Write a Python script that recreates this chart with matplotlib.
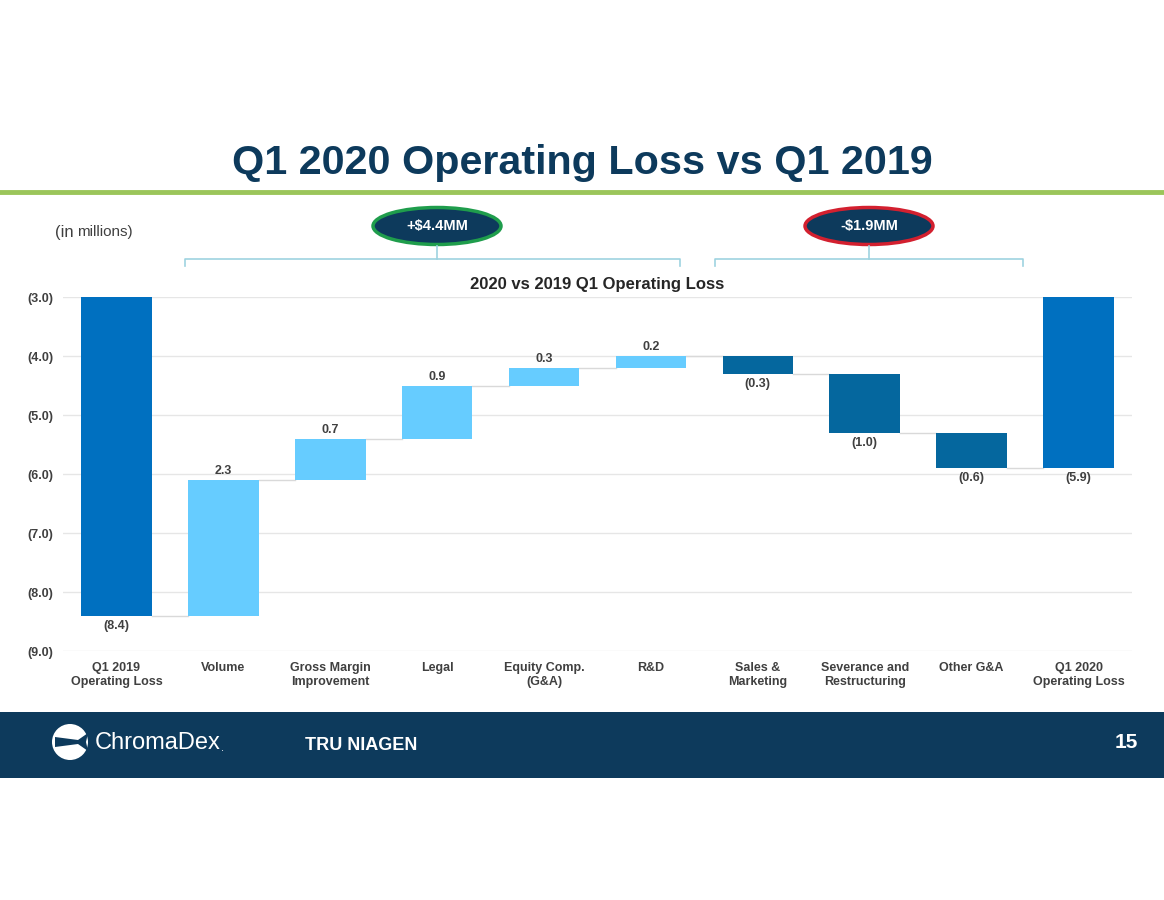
import numpy as np
import matplotlib
matplotlib.use("Agg")
import matplotlib.pyplot as plt
from matplotlib.patches import Ellipse, Circle, Rectangle, Polygon

plt.rcParams['font.family'] = ['Liberation Sans', 'DejaVu Sans']

# data
categories = ['Q1 2019\nOperating Loss', 'Volume', 'Gross Margin\nImprovement', 'Legal',
              'Equity Comp.\n(G&A)', 'R&D', 'Sales &\nMarketing', 'Severance and\nRestructuring',
              'Other G&A', 'Q1 2020\nOperating Loss']
start_value = -8.4
changes = [2.3, 0.7, 0.9, 0.3, 0.2, -0.3, -1.0, -0.6]
end_value = -5.9
y_ticks = [-3.0, -4.0, -5.0, -6.0, -7.0, -8.0, -9.0]

NAVY = '#0d3a5c'
TOTAL_C = '#0070c0'
UP_C = '#66ccff'
DOWN_C = '#05679e'
TXT = '#404040'

fig = plt.figure(figsize=(11.64, 9), dpi=100)
fig.patch.set_facecolor('white')

# header
fig.text(0.5, 1 - 163 / 900, 'Q1 2020 Operating Loss vs Q1 2019', ha='center', va='center',
         fontsize=29.7, fontweight='bold', color=NAVY)
fig.add_artist(plt.Line2D([0, 1], [1 - 192 / 900] * 2, color='#9bc55a', lw=3.5))
fig.text(55 / 1164, 1 - 232 / 900, '(in', ha='left', va='center', fontsize=12, color='#404040')
fig.text(77 / 1164, 1 - 232 / 900, 'millions)', ha='left', va='center', fontsize=11, color='#404040')

# ovals and brackets in a full-figure overlay (pixel coordinates)
ov = fig.add_axes([0, 0, 1, 1], zorder=0)
ov.set_xlim(0, 1164)
ov.set_ylim(900, 0)
ov.axis('off')

BR = '#9ed3e0'
for (x0, x1, xc) in [(185, 680, 437), (715, 1023, 869)]:
    ov.plot([x0, x0, x1, x1], [266, 259, 259, 266], color=BR, lw=1.2)
    ov.plot([xc, xc], [259, 246], color=BR, lw=1.2)

for xc, label, edge in [(437, '+$4.4MM', '#1f9d4c'), (869, '-$1.9MM', '#d3202f')]:
    ov.add_patch(Ellipse((xc, 226), 128, 37, facecolor=NAVY, edgecolor=edge, lw=2.5))
    ov.text(xc, 226, label, ha='center', va='center', color='white', fontsize=10.5, fontweight='bold')

# footer
ov.add_patch(Rectangle((0, 712), 1164, 66, facecolor=NAVY, edgecolor='none'))
ov.add_patch(Circle((70, 742), 18, facecolor='white', edgecolor='none'))
ov.add_patch(Polygon([[55, 737], [78, 740], [88, 733], [86, 742], [88, 751], [78, 744], [55, 747]],
                     closed=True, facecolor=NAVY, edgecolor='none'))
ov.text(95, 743, 'ChromaDex', ha='left', va='center', color='white', fontsize=17)
ov.text(221, 748, '.', ha='left', va='center', color='white', fontsize=8)
ov.text(305, 745, 'TRU NIAGEN', ha='left', va='center', color='white', fontsize=13, fontweight='bold')
ov.text(1138, 742, '15', ha='right', va='center', color='white', fontsize=15, fontweight='bold')

# waterfall chart
ax = fig.add_axes([63 / 1164, 1 - 651 / 900, (1132 - 63) / 1164, (651 - 297) / 900], zorder=1)
ax.patch.set_alpha(0)

n = len(categories)
x = np.arange(n)
totals = np.concatenate([[start_value], start_value + np.cumsum(changes)])
width = 0.66

# start bar
ax.bar(x[0], start_value, width=width, color=TOTAL_C, zorder=3)
# change bars
for i, ch in enumerate(changes, start=1):
    bottom = totals[i - 1]
    ax.bar(x[i], ch, bottom=bottom, width=width, color=UP_C if ch > 0 else DOWN_C, zorder=3)
# end bar
ax.bar(x[-1], end_value, width=width, color=TOTAL_C, zorder=3)

# connectors
levels = list(totals) + [end_value]
for i in range(n - 1):
    ax.plot([x[i] + width / 2, x[i + 1] - width / 2], [levels[i], levels[i]],
            color='#d9d9d9', lw=1, zorder=2)

# data labels
def fmt(v):
    return f'({abs(v):.1f})' if v < 0 else f'{v:.1f}'

lab_kw = dict(ha='center', fontsize=9, fontweight='bold', color=TXT, textcoords='offset points')
ax.annotate(fmt(start_value), (x[0], start_value), xytext=(0, -3), va='top', **lab_kw)
for i, ch in enumerate(changes, start=1):
    if ch > 0:
        ax.annotate(fmt(ch), (x[i], totals[i]), xytext=(0, 2), va='bottom', **lab_kw)
    else:
        ax.annotate(fmt(ch), (x[i], totals[i]), xytext=(0, -3), va='top', **lab_kw)
ax.annotate(fmt(end_value), (x[-1], end_value), xytext=(0, -3), va='top', **lab_kw)

ax.set_xlim(-0.5, n - 0.5)
ax.set_ylim(-9.0, -3.0)
ax.set_yticks(y_ticks)
ax.set_yticklabels([fmt(v) for v in y_ticks], fontsize=9, fontweight='bold', color=TXT)
ax.set_xticks(x)
ax.set_xticklabels(categories, fontsize=9, fontweight='bold', color=TXT, linespacing=1.2)
ax.tick_params(length=0, pad=8)
ax.tick_params(axis='y', pad=7)
ax.grid(axis='y', color='#e6e6e6', lw=1, zorder=0)
for s in ax.spines.values():
    s.set_visible(False)

ax.set_title('2020 vs 2019 Q1 Operating Loss', fontsize=12, fontweight='bold', color='#262626', pad=6)

fig.savefig('out.png', dpi=100, facecolor='white')
